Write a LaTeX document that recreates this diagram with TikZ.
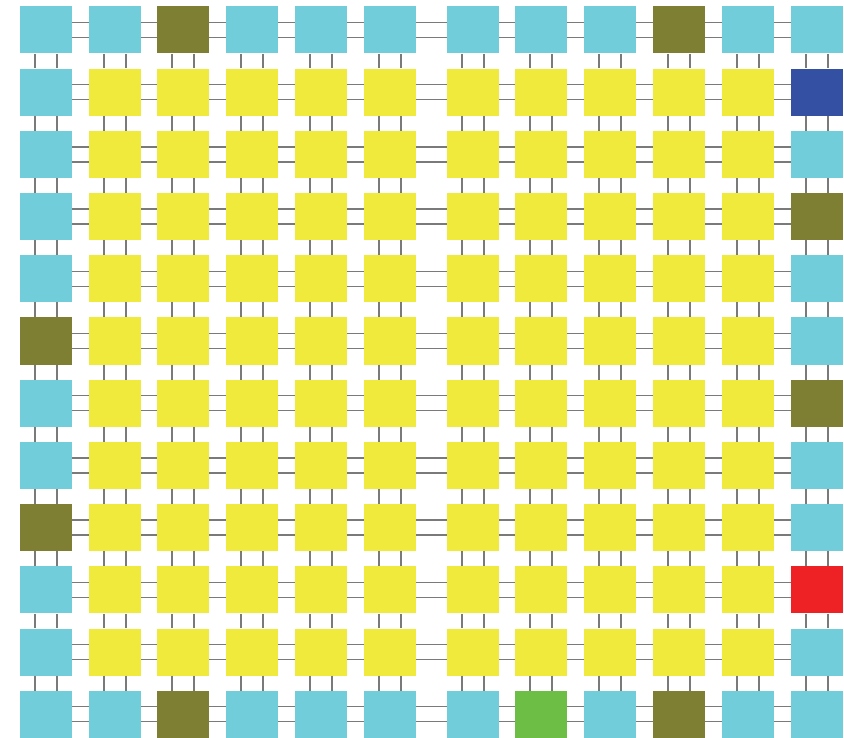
\documentclass[tikz,border=0pt]{standalone}
\usepackage{tikz}

\definecolor{tilecyan}{HTML}{72CDDB}
\definecolor{tileyellow}{HTML}{F0EA3C}
\definecolor{tileolive}{HTML}{7E7F33}
\definecolor{tileblue}{HTML}{3450A3}
\definecolor{tilered}{HTML}{EE2225}
\definecolor{tilegreen}{HTML}{6CBE45}
\definecolor{wire}{HTML}{7A7A7A}

\tikzset{
  tile/.style={rectangle,draw=none,minimum width=52pt,minimum height=47pt,inner sep=0pt},
  core/.style={fill=tileyellow},
  rim/.style={fill=tilecyan},
  wire/.style={draw=wire,line width=1.5pt},
  % special tiles on the border
  tile 1-3/.style={fill=tileolive},
  tile 1-10/.style={fill=tileolive},
  tile 2-12/.style={fill=tileblue},
  tile 4-12/.style={fill=tileolive},
  tile 6-1/.style={fill=tileolive},
  tile 7-12/.style={fill=tileolive},
  tile 9-1/.style={fill=tileolive},
  tile 10-12/.style={fill=tilered},
  tile 12-3/.style={fill=tileolive},
  tile 12-8/.style={fill=tilegreen},
  tile 12-10/.style={fill=tileolive}
}

\begin{document}
\begin{tikzpicture}[x=1pt,y=-1pt]
\useasboundingbox (0,0) rectangle (844,738);
% tiles
\foreach \r in {1,...,12}{
  \foreach \c/\x in {1/46,2/115,3/183,4/252,5/321,6/390,7/473,8/541,9/610,10/679,11/748,12/817}{
    \pgfmathtruncatemacro\inside{(\r>1)&&(\r<12)&&(\c>1)&&(\c<12)}
    \ifnum\inside=1 \def\kind{core}\else\def\kind{rim}\fi
    \node[tile,\kind,tile \r-\c/.try] (q-\r-\c) at (\x,{30+62.2*(\r-1)}) {};
  }
}
% horizontal links
\foreach \r in {1,...,12}{
  \foreach \c [evaluate=\c as \n using int(\c+1)] in {1,...,11}{
    \draw[wire] ([yshift=7.5pt]q-\r-\c.east) -- ([yshift=7.5pt]q-\r-\n.west);
    \draw[wire] ([yshift=-7.5pt]q-\r-\c.east) -- ([yshift=-7.5pt]q-\r-\n.west);
  }
}
% vertical links
\foreach \r [evaluate=\r as \n using int(\r+1)] in {1,...,11}{
  \foreach \c in {1,...,12}{
    \draw[wire] ([xshift=-11pt]q-\r-\c.south) -- ([xshift=-11pt]q-\n-\c.north);
    \draw[wire] ([xshift=11pt]q-\r-\c.south) -- ([xshift=11pt]q-\n-\c.north);
  }
}
\end{tikzpicture}
\end{document}
